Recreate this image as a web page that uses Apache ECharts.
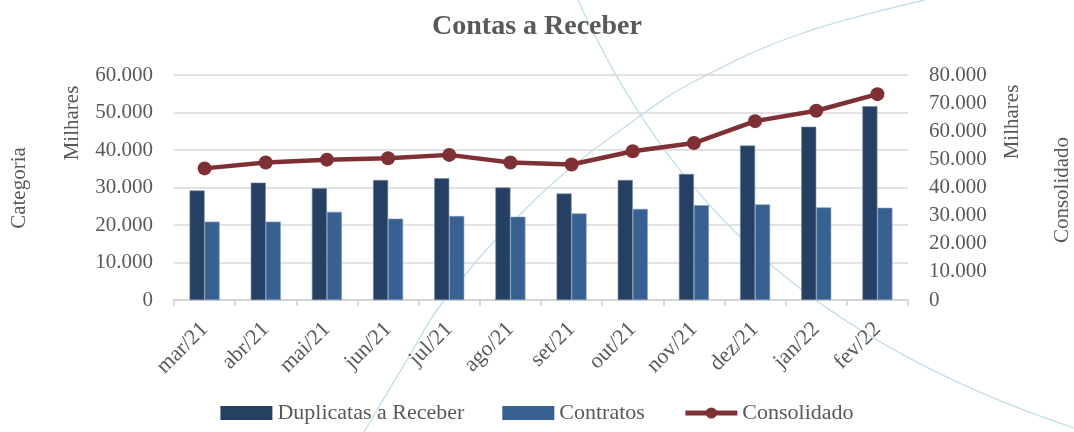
<!DOCTYPE html>
<html>
<head>
<meta charset="utf-8">
<script src="https://cdn.jsdelivr.net/npm/echarts@6/dist/echarts.min.js"></script>
<style>
  html, body { margin: 0; padding: 0; background: #fff; }
  #chart { width: 1074px; height: 432px; }
</style>
</head>
<body>
<div id="chart"></div>
<script>
// dados em milhares
const categorias = ['mar/21', 'abr/21', 'mai/21', 'jun/21', 'jul/21', 'ago/21', 'set/21', 'out/21', 'nov/21', 'dez/21', 'jan/22', 'fev/22'];
const duplicatas = [29200, 31300, 29800, 32000, 32500, 30000, 28400, 32000, 33600, 41200, 46200, 51700];
const contratos = [20900, 20900, 23500, 21700, 22400, 22200, 23100, 24300, 25300, 25500, 24700, 24600];
const consolidado = [46800, 48900, 49900, 50400, 51600, 48900, 48200, 52900, 55800, 63600, 67300, 73200];

const fonte = '"Liberation Serif", "Times New Roman", serif';
const cinza = '#595959';
const corDup = '#264064';
const corCon = '#386192';
const corLinha = '#7f3035';

const fmt = v => String(v).replace(/\B(?=(\d{3})+(?!\d))/g, '.');

const chart = echarts.init(document.getElementById('chart'));

// arcos decorativos do fundo (tema do Excel)
const estiloArco = { stroke: '#c3dcea', lineWidth: 1.3, fill: null };

const texto = (t, x, y) => ({
  type: 'text',
  x: x, y: y,
  rotation: Math.PI / 2,
  style: { text: t, fill: cinza, font: '21px ' + fonte, textAlign: 'center', textVerticalAlign: 'middle' }
});

const option = {
  backgroundColor: '#fff',
  title: {
    text: 'Contas a Receber',
    left: 'center',
    top: 8,
    textStyle: { fontFamily: fonte, fontSize: 28, fontWeight: 'bold', color: cinza }
  },
  graphic: [
    {
      type: 'bezierCurve', z: -10, silent: true,
      shape: { x1: 578, y1: 0, cpx1: 668, cpy1: 200, cpx2: 810, cpy2: 340, x2: 1074, y2: 428 },
      style: estiloArco
    },
    {
      type: 'polyline', z: -10, silent: true,
      shape: { points: [[925, 0], [800, 34], [697, 80], [640, 116], [540, 195], [443, 302], [407, 360], [380, 405], [364, 432]], smooth: 0.4 },
      style: estiloArco
    },
    texto('Categoria', 19, 188),
    texto('Milhares', 72, 123),
    texto('Milhares', 1012, 122),
    texto('Consolidado', 1062, 190)
  ],
  legend: {
    bottom: 3,
    left: 'center',
    itemWidth: 52,
    itemHeight: 14,
    itemGap: 38,
    textStyle: { fontFamily: fonte, fontSize: 22, color: cinza },
    data: [
      { name: 'Duplicatas a Receber', icon: 'rect', itemStyle: { borderWidth: 0 } },
      { name: 'Contratos', icon: 'rect', itemStyle: { borderWidth: 0 } },
      { name: 'Consolidado', lineStyle: { width: 5 } }
    ]
  },
  grid: { left: 174, right: 166, top: 75, bottom: 132 },
  xAxis: {
    type: 'category',
    data: categorias,
    axisLine: { lineStyle: { color: '#d0d0d0', width: 1.5 } },
    axisTick: { show: true, length: 6, lineStyle: { color: '#d0d0d0', width: 1.5 } },
    axisLabel: { rotate: 45, margin: 26, fontFamily: fonte, fontSize: 22, color: cinza }
  },
  yAxis: [
    {
      type: 'value',
      min: 0, max: 60000, interval: 10000,
      axisLine: { show: false },
      axisTick: { show: false },
      splitLine: { lineStyle: { color: '#d9d9d9', width: 1.5 } },
      axisLabel: { margin: 21, fontFamily: fonte, fontSize: 21, color: cinza, formatter: fmt }
    },
    {
      type: 'value',
      min: 0, max: 80000, interval: 10000,
      axisLine: { show: false },
      axisTick: { show: false },
      splitLine: { show: false },
      axisLabel: { margin: 21, fontFamily: fonte, fontSize: 21, color: cinza, formatter: fmt }
    }
  ],
  series: [
    {
      name: 'Duplicatas a Receber',
      type: 'bar',
      data: duplicatas,
      barWidth: 15,
      barGap: '0%',
      itemStyle: { color: corDup, borderColor: '#6b84a3', borderWidth: 0.6 }
    },
    {
      name: 'Contratos',
      type: 'bar',
      data: contratos,
      barWidth: 15,
      itemStyle: { color: corCon, borderColor: '#7f9cc0', borderWidth: 0.6 }
    },
    {
      name: 'Consolidado',
      type: 'line',
      yAxisIndex: 1,
      data: consolidado,
      symbol: 'circle',
      symbolSize: 14,
      lineStyle: { color: corLinha, width: 4.5 },
      itemStyle: { color: corLinha },
      z: 5
    }
  ]
};

chart.setOption(option);
</script>
</body>
</html>
